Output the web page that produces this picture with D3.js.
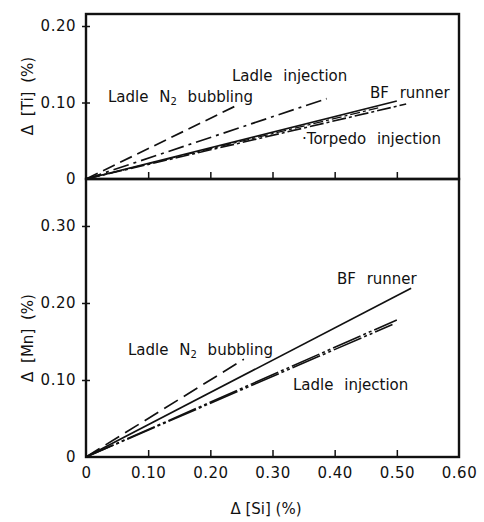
<!DOCTYPE html>
<html>
<head>
<meta charset="utf-8">
<script src="https://cdn.jsdelivr.net/npm/d3@7"></script>
<style>
  body { margin: 0; background: #fff; }
  svg { font-family: "DejaVu Sans", sans-serif; }
</style>
</head>
<body>
<div id="chart"></div>
<script>
// x values (delta Si) and tick labels
const xTicks = [0, 0.10, 0.20, 0.30, 0.40, 0.50, 0.60];
const tiTicks = [0, 0.10, 0.20];
const mnTicks = [0, 0.10, 0.20, 0.30];

// top panel: delta Ti vs delta Si, lines from origin
const tiN2Bubbling = [[0, 0], [0.242, 0.096]];
const tiLadleInj = [[0, 0], [0.387, 0.105]];
const tiBFRunner = [[0, 0], [0.50, 0.102]];
const tiTorpedo = [[0, 0], [0.515, 0.098]];
const tiTorpedo2 = [[0, 0], [0.47, 0.093]];

// bottom panel: delta Mn vs delta Si
const mnN2Bubbling = [[0, 0], [0.254, 0.127]];
const mnBFRunner = [[0, 0], [0.523, 0.219]];
const mnLadleInj = [[0, 0], [0.50, 0.178]];
const mnLadleInj2 = [[0, 0], [0.493, 0.172]];

const W = 484, H = 522;
const svg = d3.select("#chart").append("svg")
    .attr("width", W).attr("height", H);

const x = d3.scaleLinear().domain([0, 0.6]).range([86, 459]);
const yTi = d3.scaleLinear().domain([0, 0.2157]).range([179, 14]);
const yMn = d3.scaleLinear().domain([0, 0.361]).range([457, 179]);

const fmt = d => d === 0 ? "0" : d.toFixed(2);

// frames
function frame(y) {
    svg.append("rect")
        .attr("x", x(0)).attr("y", y.range()[1])
        .attr("width", x(0.6) - x(0))
        .attr("height", y.range()[0] - y.range()[1])
        .attr("fill", "none").attr("stroke", "#111").attr("stroke-width", 2.4);
}
frame(yTi);
frame(yMn);

// y axes
function yAxis(y, ticks) {
    const g = svg.append("g")
        .attr("transform", "translate(" + x(0) + ",0)")
        .call(d3.axisLeft(y).tickValues(ticks).tickFormat(fmt).tickSize(4).tickPadding(6));
    g.select(".domain").remove();
    g.selectAll(".tick line").attr("x2", 4).attr("x1", -4)
        .attr("stroke", "#111").attr("stroke-width", 1.5);
    g.selectAll(".tick").filter(d => d === 0).select("line").remove();
    g.selectAll("text").attr("font-size", 15).attr("fill", "#111")
        .attr("font-family", "DejaVu Sans").attr("letter-spacing", 0.5);
}
yAxis(yTi, tiTicks);
yAxis(yMn, mnTicks);

// x ticks (inside, pointing up) for both panels
function xTickMarks(y) {
    const g = svg.append("g")
        .attr("transform", "translate(0," + y.range()[0] + ")")
        .call(d3.axisBottom(x).tickValues(xTicks.slice(1, 6)).tickSize(-7).tickFormat(""));
    g.select(".domain").remove();
    g.selectAll(".tick line").attr("stroke", "#111").attr("stroke-width", 1.5);
}
xTickMarks(yTi);
xTickMarks(yMn);

// x tick labels on bottom panel
const xg = svg.append("g")
    .attr("transform", "translate(0," + yMn.range()[0] + ")")
    .call(d3.axisBottom(x).tickValues(xTicks).tickFormat(fmt).tickSize(0).tickPadding(10));
xg.select(".domain").remove();
xg.selectAll("text").attr("font-size", 15).attr("fill", "#111")
    .attr("font-family", "DejaVu Sans").attr("letter-spacing", 0.5);

// lines
function drawLine(data, y, dash, width) {
    svg.append("path")
        .datum(data)
        .attr("d", d3.line().x(d => x(d[0])).y(d => y(d[1])))
        .attr("fill", "none")
        .attr("stroke", "#111")
        .attr("stroke-width", width || 1.7)
        .attr("stroke-dasharray", dash || null);
}
drawLine(tiN2Bubbling, yTi, "13,6");
drawLine(tiLadleInj, yTi, "16,5,3,5");
drawLine(tiBFRunner, yTi, null);
drawLine(tiTorpedo, yTi, "14,3,3,3", 1.6);
drawLine(tiTorpedo2, yTi, "3,3,10,3", 1.3);

drawLine(mnN2Bubbling, yMn, "16,7");
drawLine(mnBFRunner, yMn, null);
drawLine(mnLadleInj, yMn, "30,3,3,3,3,3", 1.6);
drawLine(mnLadleInj2, yMn, "30,3,3,3,3,3", 1.6);

// line labels
function label(tx, ty, parts) {
    const t = svg.append("text")
        .attr("x", tx).attr("y", ty)
        .attr("font-size", 15).attr("fill", "#111")
        .attr("word-spacing", 6);
    parts.forEach(p => {
        const s = t.append("tspan").text(p.t);
        if (p.sub) s.attr("font-size", 10).attr("dy", 3);
        if (p.up) s.attr("dy", -3);
    });
}
label(108, 102, [{t: "Ladle N"}, {t: "2", sub: true}, {t: " bubbling", up: true}]);
label(232, 81, [{t: "Ladle injection"}]);
label(370, 98, [{t: "BF runner"}]);
label(302, 144, [{t: "·Torpedo injection"}]);

label(128, 355, [{t: "Ladle N"}, {t: "2", sub: true}, {t: " bubbling", up: true}]);
label(337, 284, [{t: "BF runner"}]);
label(293, 390, [{t: "Ladle injection"}]);

// axis titles
svg.append("text")
    .attr("transform", "translate(33,96) rotate(-90)")
    .attr("text-anchor", "middle").attr("font-size", 15).attr("fill", "#111")
    .attr("word-spacing", 4)
    .text("\u0394 [Ti] (%)");
svg.append("text")
    .attr("transform", "translate(33,338) rotate(-90)")
    .attr("text-anchor", "middle").attr("font-size", 15).attr("fill", "#111")
    .attr("word-spacing", 4)
    .text("\u0394 [Mn] (%)");
svg.append("text")
    .attr("x", 266).attr("y", 514)
    .attr("text-anchor", "middle").attr("font-size", 15).attr("fill", "#111")
    .text("\u0394 [Si] (%)");
</script>
</body>
</html>
